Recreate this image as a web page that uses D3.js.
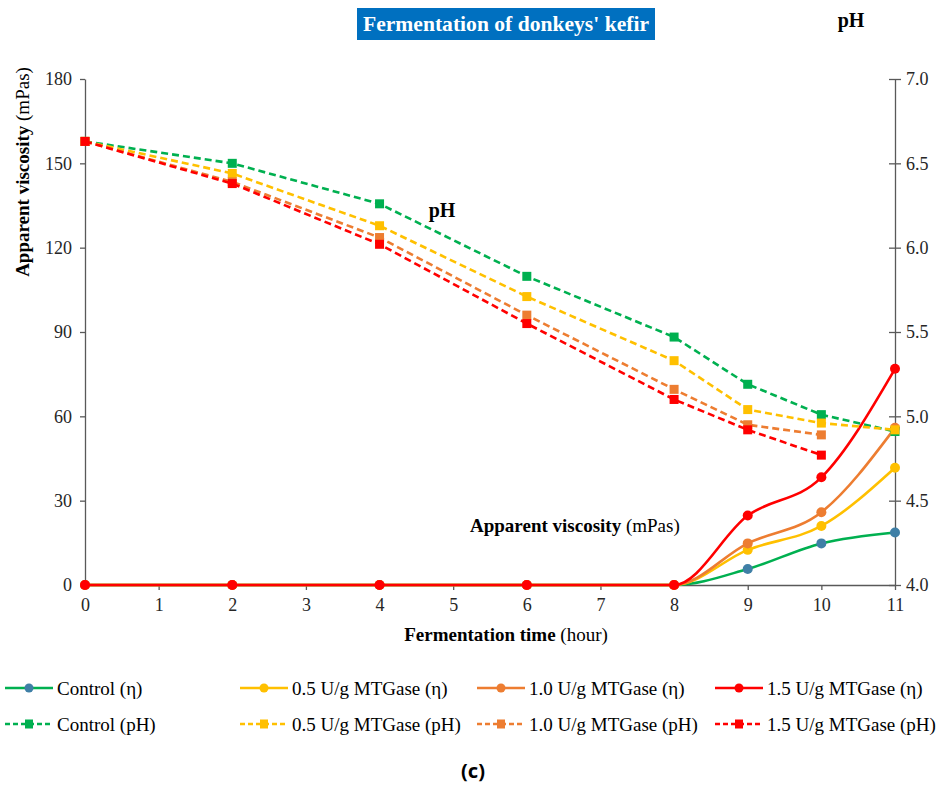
<!DOCTYPE html>
<html>
<head>
<meta charset="utf-8">
<script src="https://cdn.jsdelivr.net/npm/d3@7"></script>
<style>
  body { margin: 0; background: #ffffff; }
  svg text { font-family: "Liberation Serif", "Times New Roman", serif; fill: #262626; }
</style>
</head>
<body>
<svg id="svg" width="946" height="787"></svg>
<script>
// Fermentation time (hours) where the samples were measured
let hours = [0, 2, 4, 6, 8, 9, 10, 11];
let xTicks = [0, 1, 2, 3, 4, 5, 6, 7, 8, 9, 10, 11];
let viscTicks = [0, 30, 60, 90, 120, 150, 180];
let phTicks = [4.0, 4.5, 5.0, 5.5, 6.0, 6.5, 7.0];

// Apparent viscosity (mPas), one array per sample
let viscControl = [0, 0, 0, 0, 0, 5.7, 14.8, 18.7];
let visc05 = [0, 0, 0, 0, 0, 12.5, 21.0, 41.7];
let visc10 = [0, 0, 0, 0, 0, 14.8, 25.9, 55.9];
let visc15 = [0, 0, 0, 0, 0, 24.7, 38.3, 76.9];

// pH, the 1.0 and 1.5 U/g samples stop at 10 hours
let phControl = [6.63, 6.50, 6.26, 5.83, 5.47, 5.19, 5.01, 4.91];
let ph05 = [6.63, 6.44, 6.13, 5.71, 5.33, 5.04, 4.96, 4.92];
let ph10 = [6.63, 6.39, 6.06, 5.60, 5.16, 4.95, 4.89];
let ph15 = [6.63, 6.38, 6.02, 5.55, 5.10, 4.92, 4.77];

let samples = ["Control", "0.5 U/g MTGase", "1.0 U/g MTGase", "1.5 U/g MTGase"];
let colors = ["#00b050", "#ffc000", "#ed7d31", "#ff0000"];
let viscMarkerColors = ["#3f7fa6", "#ffc000", "#ed7d31", "#ff0000"];

let svg = d3.select("#svg");

let x = d3.scaleLinear().domain([0, 11]).range([85, 895]);
let yVisc = d3.scaleLinear().domain([0, 180]).range([585, 79]);
let yPh = d3.scaleLinear().domain([4, 7]).range([585, 79]);

//Axes
let axisColor = "#595959";

let xAxis = svg.append("g")
    .attr("transform", "translate(0," + yVisc(0) + ")")
    .call(d3.axisBottom(x).tickValues(xTicks).tickFormat(d3.format("d")).tickSize(5).tickPadding(8).tickSizeOuter(0));

let leftAxis = svg.append("g")
    .attr("transform", "translate(" + x(0) + ",0)")
    .call(d3.axisLeft(yVisc).tickValues(viscTicks).tickSize(5).tickPadding(8).tickSizeOuter(0));

let rightAxis = svg.append("g")
    .attr("transform", "translate(" + x(11) + ",0)")
    .call(d3.axisRight(yPh).tickValues(phTicks).tickFormat(d3.format(".1f")).tickSize(6).tickPadding(5).tickSizeOuter(0));
//pH ticks cross the axis line
rightAxis.selectAll(".tick line").attr("x1", -6);

[xAxis, leftAxis, rightAxis].forEach(function (g) {
    g.select(".domain").attr("stroke", axisColor).attr("stroke-width", 1.3);
    g.selectAll(".tick line").attr("stroke", axisColor).attr("stroke-width", 1.3);
    g.selectAll(".tick text")
        .style("font-family", "Liberation Serif, serif")
        .style("font-size", "18px")
        .style("fill", "#262626");
});

//Viscosity lines (smoothed, no dip below zero)
let viscSeries = [viscControl, visc05, visc10, visc15];
let viscLine = d3.line()
    .x(function (d) { return x(d[0]); })
    .y(function (d) { return yVisc(d[1]); })
    .curve(d3.curveMonotoneX);

viscSeries.forEach(function (series, i) {
    let points = series.map(function (v, j) { return [hours[j], v]; });
    svg.append("path")
        .datum(points)
        .attr("fill", "none")
        .attr("stroke", colors[i])
        .attr("stroke-width", 2.6)
        .attr("d", viscLine);
    svg.selectAll(".visc" + i)
        .data(points)
        .enter()
        .append("circle")
        .attr("cx", function (d) { return x(d[0]); })
        .attr("cy", function (d) { return yVisc(d[1]); })
        .attr("r", 5)
        .attr("fill", viscMarkerColors[i]);
});

//pH lines (dashed, square markers)
let phSeries = [phControl, ph05, ph10, ph15];
let phLine = d3.line()
    .x(function (d) { return x(d[0]); })
    .y(function (d) { return yPh(d[1]); });

phSeries.forEach(function (series, i) {
    let points = series.map(function (v, j) { return [hours[j], v]; });
    svg.append("path")
        .datum(points)
        .attr("fill", "none")
        .attr("stroke", colors[i])
        .attr("stroke-width", 2.6)
        .attr("stroke-dasharray", "7,4")
        .attr("d", phLine);
    svg.selectAll(".ph" + i)
        .data(points)
        .enter()
        .append("rect")
        .attr("x", function (d) { return x(d[0]) - 4.5; })
        .attr("y", function (d) { return yPh(d[1]) - 4.5; })
        .attr("width", 9)
        .attr("height", 9)
        .attr("fill", colors[i]);
});

//Title box
svg.append("rect")
    .attr("x", 357).attr("y", 8)
    .attr("width", 298).attr("height", 32)
    .attr("fill", "#0070c0");
svg.append("text")
    .attr("x", 506).attr("y", 31)
    .attr("text-anchor", "middle")
    .attr("textLength", 286)
    .attr("lengthAdjust", "spacingAndGlyphs")
    .style("font-size", "21px")
    .style("font-weight", "bold")
    .style("fill", "#ffffff")
    .text("Fermentation of donkeys' kefir");

//pH labels
svg.append("text")
    .attr("x", 851).attr("y", 27)
    .attr("text-anchor", "middle")
    .style("font-size", "20px")
    .style("font-weight", "bold")
    .style("fill", "#000")
    .text("pH");
svg.append("text")
    .attr("x", 442).attr("y", 217)
    .attr("text-anchor", "middle")
    .style("font-size", "20px")
    .style("font-weight", "bold")
    .style("fill", "#000")
    .text("pH");

//Mixed bold / normal labels
function mixedLabel(g, boldPart, normalPart) {
    let t = g.append("text").style("font-size", "19px").style("fill", "#000");
    t.append("tspan").style("font-weight", "bold").text(boldPart);
    t.append("tspan").text(" " + normalPart);
    return t;
}

mixedLabel(svg.append("g").attr("transform", "translate(470,532)"), "Apparent viscosity", "(mPas)");

mixedLabel(svg.append("g").attr("transform", "translate(506,641)"), "Fermentation time", "(hour)")
    .attr("text-anchor", "middle");

mixedLabel(svg.append("g").attr("transform", "translate(29,172) rotate(-90)"), "Apparent viscosity", "(mPas)")
    .attr("text-anchor", "middle");

//Legend
let legendX = [5, 240, 477, 715];
let legendY = [688, 724];

samples.forEach(function (name, i) {
    for (let row = 0; row < 2; row++) {
        let g = svg.append("g").attr("transform", "translate(" + legendX[i] + "," + legendY[row] + ")");
        g.append("line")
            .attr("x1", 0).attr("x2", 48)
            .attr("stroke", colors[i])
            .attr("stroke-width", 2.6)
            .attr("stroke-dasharray", row === 1 ? "5,3" : null);
        if (row === 0) {
            g.append("circle").attr("cx", 24).attr("r", 4.5).attr("fill", viscMarkerColors[i]);
        } else {
            g.append("rect").attr("x", 20).attr("y", -4.5).attr("width", 8).attr("height", 9).attr("fill", colors[i]);
        }
        g.append("text")
            .attr("x", 52).attr("y", 6.5)
            .style("font-size", "19px")
            .style("fill", "#000")
            .text(name + (row === 0 ? " (η)" : " (pH)"));
    }
});

svg.append("text")
    .attr("x", 473).attr("y", 778)
    .attr("text-anchor", "middle")
    .style("font-family", "Noto Sans, sans-serif")
    .style("font-size", "20px")
    .style("font-weight", "bold")
    .style("fill", "#000")
    .text("(c)");
</script>
</body>
</html>
